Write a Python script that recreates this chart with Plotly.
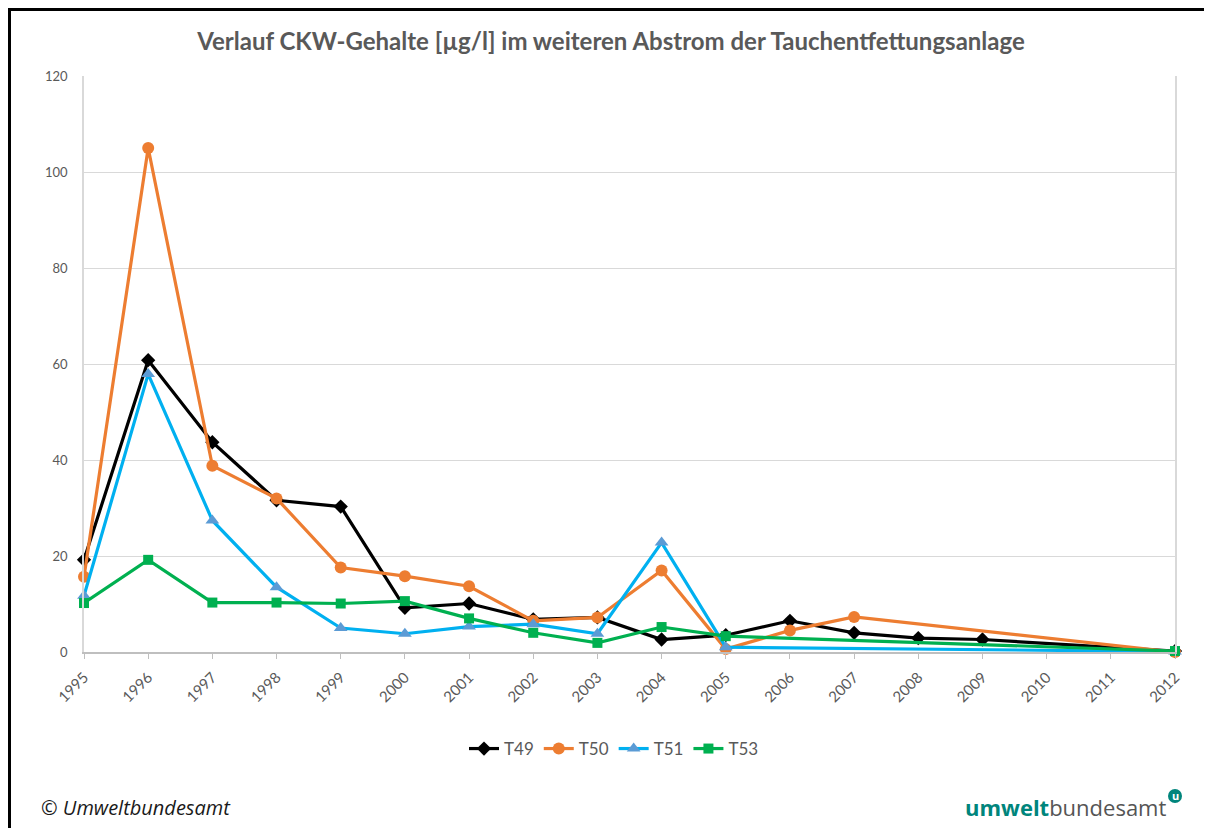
import plotly.graph_objects as go

years = list(range(1995, 2013))
t49 = [19.2, 60.8, 43.7, 31.6, 30.3, 9.2, 10.1, 6.8, 7.2, 2.6, 3.5, 6.5, 4.0, 2.9, 2.6, None, None, 0.2]
t50 = [15.7, 105.0, 38.8, 32.0, 17.6, 15.8, 13.7, 6.5, 7.2, 17.0, 0.6, 4.5, 7.3, None, None, None, None, 0.0]
t51 = [11.7, 57.9, 27.4, 13.5, 5.0, 3.8, 5.3, 5.8, 3.8, 22.8, 1.0, None, None, None, None, None, None, 0.1]
t53 = [10.2, 19.2, 10.3, 10.3, 10.1, 10.6, 7.0, 4.0, 1.9, 5.2, 3.3, None, None, None, None, None, None, 0.2]
series_names = ["T49", "T50", "T51", "T53"]
y_ticks = [0, 20, 40, 60, 80, 100, 120]

FONT = "Lato, Open Sans, sans-serif"
GRAY = "#595959"
TEAL = "#00857c"

fig = go.Figure()
styles = [
    (t49, "#000000", "#000000", "diamond", 11),
    (t50, "#ED7D31", "#ED7D31", "circle", 12),
    (t51, "#00B0F0", "#5B9BD5", "triangle-up", 12),
    (t53, "#00B050", "#00B050", "square", 10),
]
for name, (vals, lc, mc, sym, ms) in zip(series_names, styles):
    fig.add_trace(go.Scatter(
        x=years, y=vals, name=name, mode="lines+markers", connectgaps=True,
        line=dict(color=lc, width=3.2), cliponaxis=False,
        marker=dict(color=mc, symbol=sym, size=ms, line=dict(width=0)),
    ))

OFF = 8  # page body margin
W, H = 1212 - OFF, 828 - OFF
L, T = 84 - OFF, 76 - OFF
R = W - (1175 - OFF)
B = H - (652 - OFF)
pw, ph = W - L - R, H - T - B

def px(x):
    return (x - OFF - L) / pw

def py(y):
    return (H - B - (y - OFF)) / ph

fig.update_layout(
    width=W, height=H,
    margin=dict(l=L, r=R, t=T, b=B),
    paper_bgcolor="white", plot_bgcolor="white",
    font=dict(family=FONT, color=GRAY),
    title=dict(text="<b>Verlauf CKW-Gehalte [µg/l] im weiteren Abstrom der Tauchentfettungsanlage</b>",
               x=px(611), xanchor="center", xref="paper", y=1 - (42 - OFF) / H, yanchor="middle",
               font=dict(size=24, color=GRAY, family=FONT)),
    showlegend=True,
    legend=dict(orientation="h", x=px(614), xanchor="center", y=py(749), yanchor="middle",
                font=dict(size=17, color=GRAY), itemwidth=30, traceorder="normal"),
    xaxis=dict(range=[1995, 2012], tickmode="array", tickvals=years,
               ticktext=[str(y) for y in years], tickangle=-45,
               showgrid=False, showline=True, linecolor="#bfbfbf", linewidth=1.5,
               ticks="outside", ticklen=5, tickcolor="#bfbfbf",
               tickfont=dict(size=15, color=GRAY), zeroline=False,
               ticklabelstandoff=4),
    yaxis=dict(range=[0, 120], tickmode="array", tickvals=y_ticks,
               showgrid=True, gridcolor="#d9d9d9", gridwidth=1,
               showline=True, linecolor="#d9d9d9", linewidth=1.5, mirror=True,
               ticks="", tickfont=dict(size=13, color=GRAY), zeroline=False,
               ticklabelstandoff=12),
)

# outer frame
fig.add_shape(type="rect", xref="paper", yref="paper",
              x0=px(9.5), x1=px(1206), y0=py(845), y1=py(9.5),
              line=dict(color="black", width=3), fillcolor="rgba(0,0,0,0)", layer="below")

fig.add_annotation(xref="paper", yref="paper", x=px(39), y=py(807), xanchor="left", yanchor="middle",
                   text="<i>© Umweltbundesamt</i>", showarrow=False,
                   font=dict(family="Open Sans, sans-serif", size=20, color="#1a1a1a"))
fig.add_annotation(xref="paper", yref="paper", x=px(1168), y=py(807), xanchor="right", yanchor="middle",
                   text="<b><span style='color:#00857c'>umwelt</span></b><span style='color:#555555'>bundesamt</span>",
                   showarrow=False, font=dict(family="Open Sans, sans-serif", size=22))
fig.add_shape(type="circle", xref="paper", yref="paper",
              x0=px(1168), x1=px(1182), y0=py(803), y1=py(789),
              line=dict(color=TEAL, width=0), fillcolor=TEAL)
fig.add_annotation(xref="paper", yref="paper", x=px(1175), y=py(795.5), xanchor="center", yanchor="middle",
                   text="<b>u</b>", showarrow=False,
                   font=dict(family="Open Sans, sans-serif", size=11, color="white"))

fig.write_html("out.html")
